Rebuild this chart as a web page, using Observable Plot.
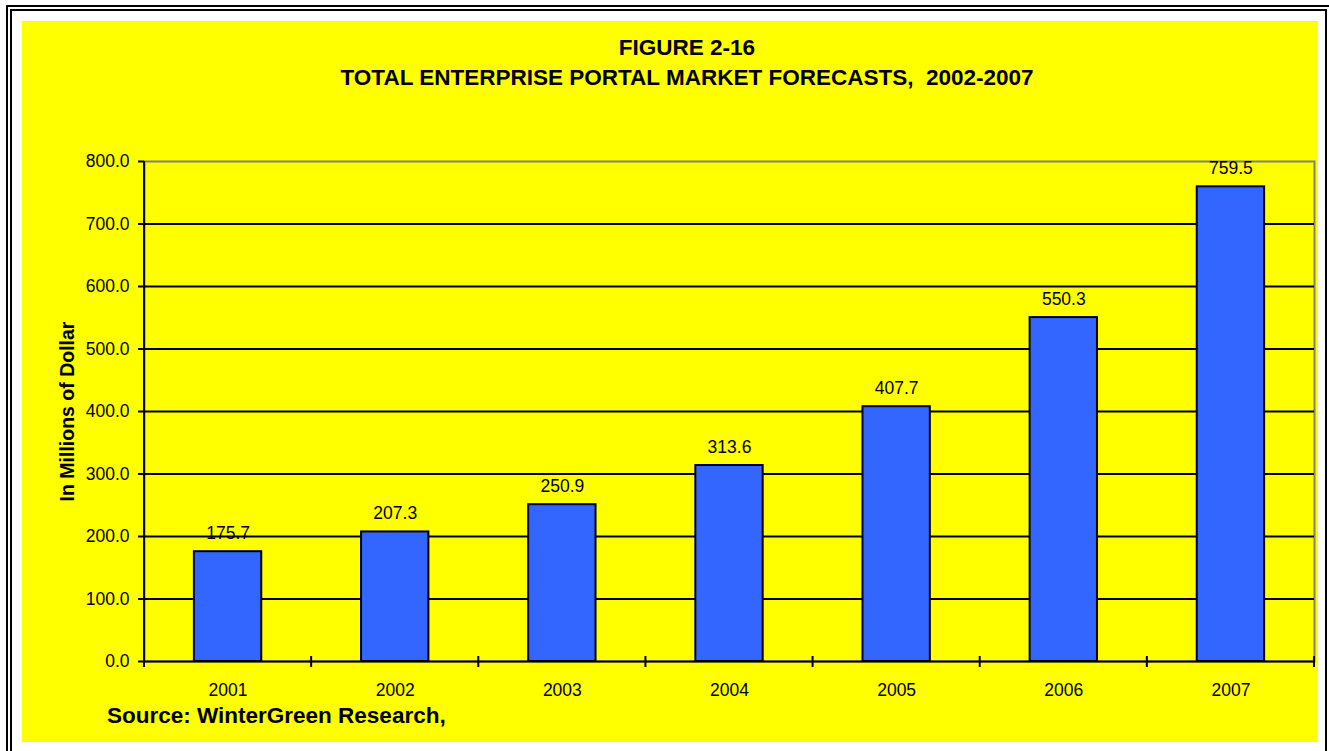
<!DOCTYPE html>
<html><head><meta charset="utf-8">
<script src="https://cdn.jsdelivr.net/npm/d3@7"></script>
<script src="https://cdn.jsdelivr.net/npm/@observablehq/plot@0.6"></script>
<style>
html,body{margin:0;padding:0;background:#fff;overflow:hidden}
#fig{position:relative;width:1329px;height:751px;overflow:hidden;font-family:"Liberation Sans",Arial,sans-serif;color:#000}
.b1{position:absolute;left:6px;top:5px;width:1340px;height:800px;border:2px solid #000}
.b2{position:absolute;left:10px;top:9px;width:1313px;height:800px;border:2px solid #000}
.bg{position:absolute;left:22px;top:21px;width:1296px;height:721px;background:#ffff00}
.title{position:absolute;left:0;top:33px;width:1374px;text-align:center;font-weight:bold;font-size:22.5px;line-height:29.5px;white-space:pre}
.source{position:absolute;left:107px;top:705px;font-weight:bold;font-size:22.5px;line-height:22.5px;white-space:nowrap}
#chart{position:absolute;left:0;top:0}
</style>
</head><body>
<div id="fig">
  <div class="b1"></div>
  <div class="b2"></div>
  <div class="bg"></div>
  <div id="chart"></div>
  <div class="title" id="title"></div>
  <div class="source" id="source"></div>
</div>
<script>
const titleLines = ["FIGURE 2-16", "TOTAL ENTERPRISE PORTAL MARKET FORECASTS,  2002-2007"];
const sourceText = "Source: WinterGreen Research,";
const yLabel = "In Millions of Dollar";
const years = ["2001", "2002", "2003", "2004", "2005", "2006", "2007"];
const values = [175.7, 207.3, 250.9, 313.6, 407.7, 550.3, 759.5];
const yTicks = [0, 100, 200, 300, 400, 500, 600, 700, 800];

document.getElementById("title").textContent = titleLines.join("\n");
document.getElementById("source").textContent = sourceText;

const data = years.map((year, i) => ({year, value: values[i]}));
const font = '"Liberation Sans", Arial, sans-serif';

const plot = Plot.plot({
  width: 1329,
  height: 751,
  marginLeft: 144,
  marginRight: 15,
  marginTop: 161,
  marginBottom: 90,
  style: {background: "transparent", overflow: "visible", fontFamily: font, fontSize: "17.5px", color: "#000"},
  x: {type: "band", domain: years, paddingInner: 0.597, paddingOuter: 0.2985, round: false, label: null},
  y: {domain: [0, 800], label: null},
  marks: [
    Plot.frame({stroke: "#808080", strokeWidth: 2}),
    Plot.ruleY(yTicks.filter(t => t < 800), {stroke: "#000", strokeWidth: 2}),
    Plot.barY(data, {x: "year", y: "value", fill: "#3366FF", stroke: "#000", strokeWidth: 2}),
    Plot.text(data, {x: "year", y: "value", text: d => d.value.toFixed(1), lineAnchor: "bottom", dy: -13, fontSize: 17.5, fill: "#000"}),
    Plot.axisY({ticks: yTicks, tickFormat: d3.format(".1f"), tickSize: 6, tickPadding: 9, strokeWidth: 2, fontSize: 17.5, label: null}),
    Plot.axisX({tickSize: 0, tickPadding: 22, fontSize: 17.5, label: null}),
    Plot.text([yLabel], {frameAnchor: "left", textAnchor: "middle", rotate: -90, dx: -77, fontSize: 19.5, fontWeight: "bold", fill: "#000"})
  ]
});

// Axis lines and category-boundary ticks, positioned with Plot's own scales
const xs = plot.scale("x");
const ys = plot.scale("y");
const svg = d3.select(plot);
const x0 = xs.range[0], x1 = xs.range[1];
const step = (x1 - x0) / years.length;
const yBase = ys.apply(0), yTop = ys.apply(800);
svg.append("line").attr("x1", x0).attr("x2", x0).attr("y1", yTop).attr("y2", yBase)
  .attr("stroke", "#000").attr("stroke-width", 2);
const bounds = d3.range(years.length + 1).map(i => x0 + i * step);
svg.append("g").selectAll("line").data(bounds).join("line")
  .attr("x1", d => d).attr("x2", d => d)
  .attr("y1", yBase - 5).attr("y2", yBase + 6)
  .attr("stroke", "#000").attr("stroke-width", 2);

document.getElementById("chart").appendChild(plot);
</script>
</body></html>
